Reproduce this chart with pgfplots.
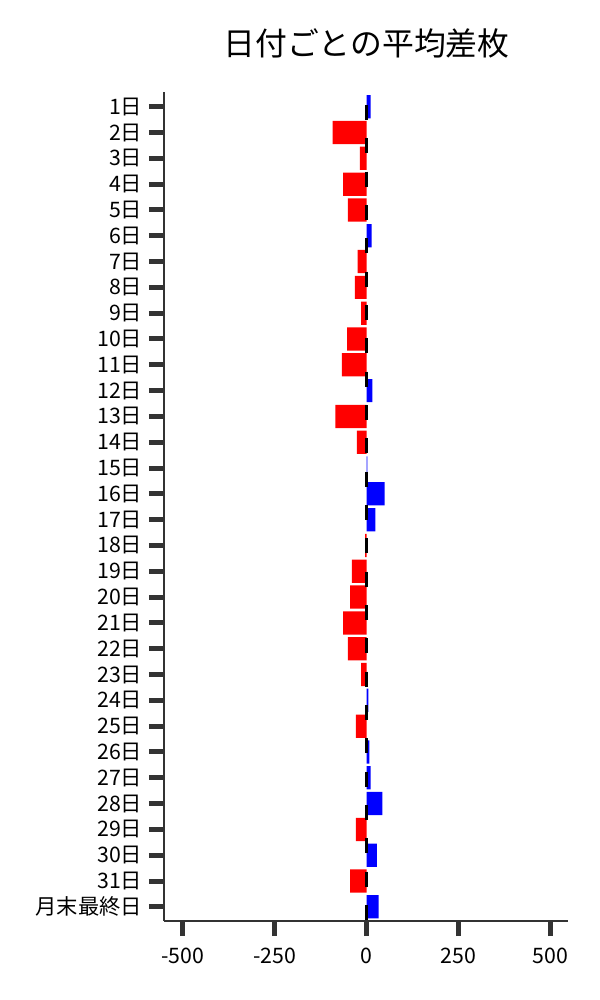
\documentclass[border=0pt]{standalone}
\usepackage{fontspec}
\setmainfont{Noto Sans CJK JP}
\usepackage{pgfplots}
\pgfplotsset{compat=1.18}
\definecolor{tickgray}{HTML}{333333}
\begin{document}
\begin{tikzpicture}
\path[use as bounding box] (0,0) rectangle (432bp,720bp);
\node[font=\fontsize{23}{27}\selectfont, inner sep=0pt] at (263.9bp,689bp) {日付ごとの平均差枚};
\begin{axis}[
  at={(118.08bp,56.88bp)}, anchor=south west,
  scale only axis, width=290.88bp, height=596.88bp,
  xmin=-551, xmax=548,
  ymin=-0.57, ymax=31.55, y dir=reverse,
  axis x line*=bottom, axis y line*=left,
  axis line style={-, line width=0.9bp, draw=tickgray},
  tick align=outside,
  major tick length=10.8bp,
  major tick style={line width=3.6bp, draw=tickgray},
  xtick={-500,-250,0,250,500},
  xticklabels={-500,-250,0,250,500},
  ytick={0,...,31},
  yticklabels={1日,2日,3日,4日,5日,6日,7日,8日,9日,10日,11日,12日,13日,14日,15日,16日,17日,18日,19日,20日,21日,22日,23日,24日,25日,26日,27日,28日,29日,30日,31日,月末最終日},
  ticklabel style={font=\fontsize{15.4}{18}\selectfont, inner sep=0pt},
  yticklabel style={xshift=-4.7bp},
  xticklabel style={yshift=-8.4bp},
  clip=false,
]
\addplot[xbar, bar width=0.9, bar shift=0pt, fill=red, draw=none] coordinates {
(-92,1) (-18,2) (-64,3) (-51,4) (-24,6) (-32,7) (-15,8) (-53,9) (-67,10)
(-85,12) (-26,13) (-4,17) (-40,18) (-45,19) (-64,20) (-51,21) (-15,22)
(-29,24) (-29,28) (-45,30)
};
\addplot[xbar, bar width=0.9, bar shift=0pt, fill=blue, draw=none] coordinates {
(11,0) (14,5) (16,11) (2,14) (49,15) (24,16) (5,23) (8,25) (11,26) (43,27) (28,29) (33,31)
};
\addplot[black, line width=1.8bp, dash pattern=on 10.8bp off 13.2bp, dash phase=14.6bp] coordinates {(0,-0.57) (0,31.55)};
\end{axis}
\end{tikzpicture}
\end{document}
